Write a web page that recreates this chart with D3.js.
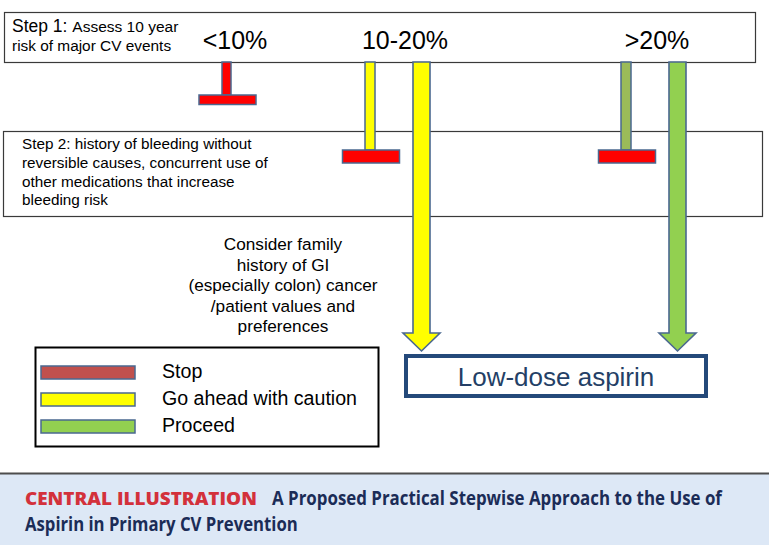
<!DOCTYPE html>
<html>
<head>
<meta charset="utf-8">
<script src="https://cdn.jsdelivr.net/npm/d3@7"></script>
<style>
  html, body { margin: 0; padding: 0; background: #fff; }
  svg { display: block; }
</style>
</head>
<body>
<div id="chart"></div>
<script>
// ---------- data ----------
const riskCategories = ["<10%", "10-20%", ">20%"];
const stepOneHead = "Step 1:";
const stepOneLines = ["Assess 10 year", "risk of major CV events"];
const stepTwoLines = [
  "Step 2: history of bleeding without",
  "reversible causes, concurrent use of",
  "other medications that increase",
  "bleeding risk"
];
const considerLines = [
  "Consider family",
  "history of GI",
  "(especially colon) cancer",
  "/patient values and",
  "preferences"
];
const legendLabels = ["Stop", "Go ahead with caution", "Proceed"];
const legendKinds = ["stopKey", "caution", "proceed"];
// pathways leaving step 1 (one per drawn bar)
const pathCategory = ["<10%", "10-20%", "10-20%", ">20%", ">20%"];
const pathKind = ["stop", "caution", "caution", "proceedMuted", "proceed"];
const pathEnd = ["step1", "step2", "aspirin", "step2", "aspirin"];
const outcomeLabel = "Low-dose aspirin";
const bannerTag = "CENTRAL ILLUSTRATION";
const bannerTitle = ["A Proposed Practical Stepwise Approach to the Use of", "Aspirin in Primary CV Prevention"];

// ---------- styles / layout ----------
const W = 769, H = 545;
const fill = {
  stop: "#ff0000", stopKey: "#c0504d", caution: "#ffff00",
  proceedMuted: "#9bbb59", proceed: "#92d050"
};
const outline = "#4a6890";
const font = "'Liberation Sans', Arial, sans-serif";

const svg = d3.select("#chart").append("svg")
  .attr("width", W).attr("height", H);

// category label positions
const xCat = d3.scaleOrdinal().domain(riskCategories).range([235, 405, 657]);
// bar offsets from the category label centre, by index within the category
const barOffset = { "<10%": [-8.5], "10-20%": [-35, 16.5], ">20%": [-31, 20.5] };
// vertical stages
const yStage = d3.scaleOrdinal()
  .domain(["step1Bottom", "step1", "step2", "aspirin"])
  .range([62, 95, 150, 333]);

// ---------- step boxes ----------
svg.append("rect").attr("x", 4.5).attr("y", 12.5).attr("width", 751).attr("height", 50)
  .attr("fill", "#fff").attr("stroke", "#3a3a3a").attr("stroke-width", 1.2);
svg.append("rect").attr("x", 3.5).attr("y", 131.5).attr("width", 759).attr("height", 85)
  .attr("fill", "#fff").attr("stroke", "#3a3a3a").attr("stroke-width", 1.2);

const s1 = svg.append("text").attr("x", 12).attr("y", 32)
  .attr("font-family", font).attr("fill", "#000");
s1.append("tspan").attr("font-size", 17.5).text(stepOneHead + " ");
s1.append("tspan").attr("font-size", 15.5).text(stepOneLines[0]);
svg.append("text").attr("x", 12).attr("y", 51).attr("font-family", font)
  .attr("font-size", 15.4).text(stepOneLines[1]);

svg.selectAll("text.cat").data(riskCategories).join("text")
  .attr("class", "cat")
  .attr("x", d => xCat(d)).attr("y", 49)
  .attr("text-anchor", "middle").attr("font-family", font).attr("font-size", 25)
  .text(d => d);

svg.selectAll("text.s2").data(stepTwoLines).join("text")
  .attr("class", "s2")
  .attr("x", 22).attr("y", (d, i) => 149 + i * 18.8)
  .attr("font-family", font).attr("font-size", 15.3).text(d => d);

svg.selectAll("text.cons").data(considerLines).join("text")
  .attr("class", "cons")
  .attr("x", 283).attr("y", (d, i) => 250 + i * 20.6)
  .attr("text-anchor", "middle").attr("font-family", font).attr("font-size", 17.2)
  .text(d => d);

// ---------- pathways ----------
const paths = pathCategory.map((c, i) => {
  const idx = pathCategory.slice(0, i).filter(v => v === c).length;
  return { cat: c, kind: pathKind[i], end: pathEnd[i], cx: xCat(c) + barOffset[c][idx] };
});

const gPaths = svg.append("g");
paths.forEach(p => {
  const y0 = yStage("step1Bottom");
  if (p.end === "aspirin") {
    const hw = 8.5, hh = 18.5, yh = yStage("aspirin"), tip = yh + 18;
    const pts = [[p.cx - hw, y0], [p.cx + hw, y0], [p.cx + hw, yh], [p.cx + hh, yh],
                 [p.cx, tip], [p.cx - hh, yh], [p.cx - hw, yh]];
    gPaths.append("path").attr("d", d3.line()(pts) + "Z")
      .attr("fill", fill[p.kind]).attr("stroke", outline).attr("stroke-width", 1.6)
      .attr("stroke-linejoin", "miter");
  } else {
    const yEnd = yStage(p.end);
    const sw = p.end === "step1" ? 9 : 10;
    const barH = p.end === "step1" ? 9.5 : 13;
    const barW = 57;
    gPaths.append("rect").attr("x", p.cx - sw / 2).attr("y", y0)
      .attr("width", sw).attr("height", yEnd - y0)
      .attr("fill", p.end === "step1" ? fill.stop : fill[p.kind])
      .attr("stroke", outline).attr("stroke-width", 1.5);
    gPaths.append("rect").attr("x", p.cx - barW / 2 + 1).attr("y", yEnd)
      .attr("width", barW).attr("height", barH)
      .attr("fill", fill.stop).attr("stroke", outline).attr("stroke-width", 1.5);
  }
});

// ---------- outcome box ----------
svg.append("rect").attr("x", 406).attr("y", 356).attr("width", 300).attr("height", 40)
  .attr("fill", "#fff").attr("stroke", "#24497a").attr("stroke-width", 4);
svg.append("text").attr("x", 556).attr("y", 386).attr("text-anchor", "middle")
  .attr("font-family", font).attr("font-size", 26).attr("fill", "#243f66")
  .text(outcomeLabel);

// ---------- legend ----------
svg.append("rect").attr("x", 35.5).attr("y", 347.5).attr("width", 343).attr("height", 99)
  .attr("fill", "#fff").attr("stroke", "#000").attr("stroke-width", 2);
const yLeg = d3.scalePoint().domain(legendLabels).range([366, 420]);
svg.selectAll("rect.key").data(legendLabels).join("rect")
  .attr("class", "key")
  .attr("x", 41).attr("y", d => yLeg(d)).attr("width", 94).attr("height", 13)
  .attr("fill", (d, i) => fill[legendKinds[i]]).attr("stroke", outline).attr("stroke-width", 1.5);
svg.selectAll("text.key").data(legendLabels).join("text")
  .attr("class", "key")
  .attr("x", 162).attr("y", d => yLeg(d) + 12)
  .attr("font-family", font).attr("font-size", 19.6).text(d => d);

// ---------- banner ----------
svg.append("rect").attr("x", 0).attr("y", 474).attr("width", W).attr("height", H - 474)
  .attr("fill", "#dde8f6");
svg.append("line").attr("x1", 0).attr("x2", W).attr("y1", 473.5).attr("y2", 473.5)
  .attr("stroke", "#4d4d4d").attr("stroke-width", 2);
const bFont = "'Open Sans', 'Noto Sans', sans-serif";
// draw a condensed text by measuring it and squeezing it horizontally to the target width
function condensed(txt, x, y, size, weight, color, targetW) {
  const g = svg.append("g");
  const t = g.append("text").attr("x", 0).attr("y", 0)
    .attr("font-family", bFont).attr("font-weight", weight).attr("font-size", size)
    .attr("fill", color).text(txt);
  const natural = t.node().getComputedTextLength() || targetW;
  g.attr("transform", `translate(${x},${y}) scale(${targetW / natural},1)`);
}
condensed(bannerTag, 25, 505, 17.5, 800, "#d3313b", 232);
condensed(bannerTitle[0], 272, 505, 19, 700, "#1b2c57", 450);
condensed(bannerTitle[1], 25, 531, 19, 700, "#1b2c57", 273);
</script>
</body>
</html>
